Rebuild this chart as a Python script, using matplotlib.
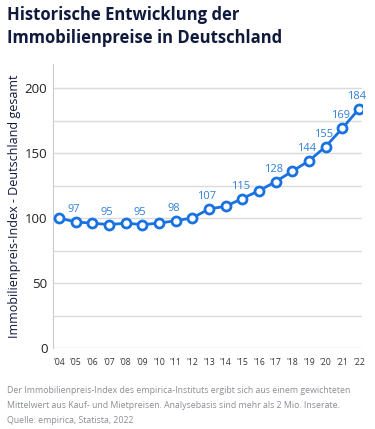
import numpy as np
import matplotlib
matplotlib.use("Agg")
from matplotlib import pyplot as plt

years = ["'04", "'05", "'06", "'07", "'08", "'09", "'10", "'11", "'12", "'13",
         "'14", "'15", "'16", "'17", "'18", "'19", "'20", "'21", "'22"]
index_vals = [100, 97, 96, 95, 96, 95, 96, 98, 100, 107,
              109, 115, 121, 128, 136, 144, 155, 169, 184]
labelled = ["'05", "'07", "'09", "'11", "'13", "'15", "'17", "'19", "'20", "'21", "'22"]
yticks = [0, 50, 100, 150, 200]

blue = "#1a72e0"
navy = "#0f1a3c"
plt.rcParams['font.family'] = ['Open Sans', 'DejaVu Sans']

fig = plt.figure(figsize=(3.75, 4.29), dpi=100)
ax = fig.add_axes([0.1413, 0.1888, 0.824, 0.662])

x = np.arange(len(years))
for g in range(0, 201, 25):
    ax.axhline(g, color="#d9dbe0", lw=1, zorder=0)
ax.plot(x, index_vals, color=blue, lw=2, marker="o", ms=6.5,
        mfc="white", mec=blue, mew=2, zorder=3)

for xi, lab, v in zip(x, years, index_vals):
    if lab in labelled:
        ax.annotate(str(v), (xi, v), xytext=(-1.5, 5), textcoords="offset points",
                    ha="center", va="bottom", fontsize=8, color="#2f7fd6",
                    zorder=4)

ax.set_xlim(-0.36, 18.18)
ax.set_ylim(0, 218.5)
ax.set_xticks(x)
ax.set_xticklabels(years, fontsize=6.2, color="#333333")
ax.set_yticks(yticks)
ax.set_yticklabels([str(t) for t in yticks], fontsize=9.5, color="#222222")
ax.tick_params(length=0, pad=4)
ax.tick_params(axis="x", pad=7)
for s in ["top", "right", "bottom"]:
    ax.spines[s].set_visible(False)
ax.spines["left"].set_color("#c8cad0")
ax.set_ylabel("Immobilienpreis-Index - Deutschland gesamt", fontsize=9, color=navy, labelpad=3)

fig.text(0.019, 0.985, "Historische Entwicklung der\nImmobilienpreise in Deutschland",
         fontsize=12, fontweight="bold", color=navy, va="top", linespacing=1.3)
fig.text(0.019, 0.009,
         "Der Immobilienpreis-Index des empirica-Instituts ergibt sich aus einem gewichteten\n"
         "Mittelwert aus Kauf- und Mietpreisen. Analysebasis sind mehr als 2 Mio. Inserate.\n"
         "Quelle: empirica, Statista, 2022",
         fontsize=6.3, color="#8a8d94", va="bottom", linespacing=1.9)

fig.savefig("out.png", dpi=100)
